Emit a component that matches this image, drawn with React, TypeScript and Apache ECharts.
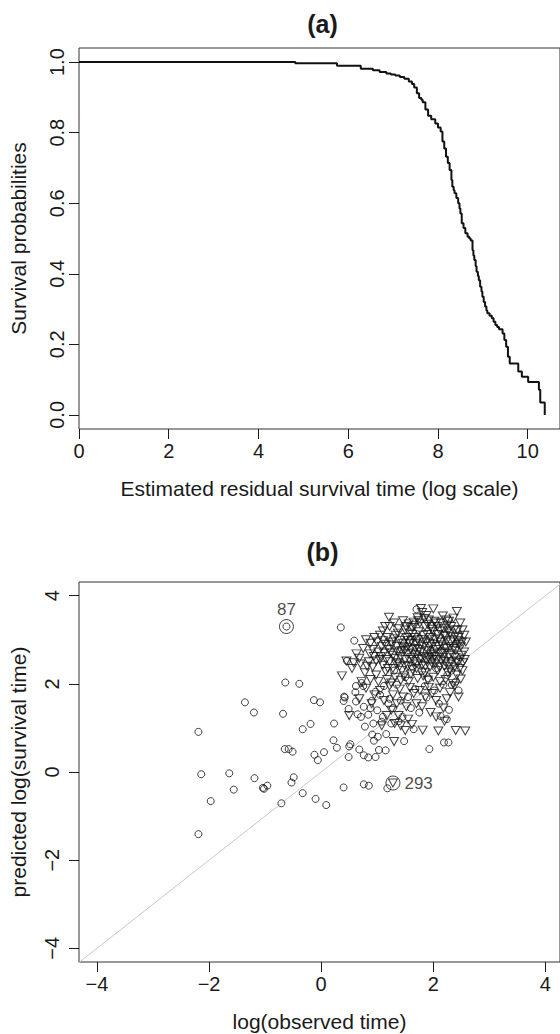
import React, { useEffect, useRef } from "react";
import * as echarts from "echarts";

// ---------- Panel (a): Kaplan–Meier style survival curve ----------
const survTime = [
  0, 4.82, 5.75, 6.28, 6.55, 6.7, 6.85, 6.95, 7.05, 7.15, 7.25, 7.35, 7.42, 7.47, 7.53, 7.58, 7.63, 7.66,
  7.72, 7.78, 7.85, 7.94, 8.0, 8.06, 8.1, 8.14, 8.18, 8.22, 8.26, 8.3, 8.32, 8.35, 8.37, 8.41, 8.45, 8.48,
  8.5, 8.53, 8.57, 8.61, 8.66, 8.7, 8.73, 8.77, 8.79, 8.81, 8.84, 8.86, 8.89, 8.91, 8.94, 8.97, 8.99, 9.02,
  9.05, 9.08, 9.1, 9.15, 9.2, 9.24, 9.28, 9.32, 9.36, 9.44, 9.48, 9.52, 9.56, 9.6, 9.79, 9.87, 10.01, 10.25,
  10.28, 10.38,
];
const survProb = [
  1.0, 0.997, 0.99, 0.981, 0.977, 0.972, 0.968, 0.965, 0.962, 0.958, 0.953, 0.945, 0.938, 0.928, 0.912,
  0.898, 0.893, 0.886, 0.866, 0.848, 0.838, 0.826, 0.815, 0.803, 0.775, 0.755, 0.732, 0.714, 0.694, 0.666,
  0.647, 0.637, 0.628, 0.615, 0.6, 0.585, 0.571, 0.543, 0.53, 0.515, 0.505, 0.5, 0.494, 0.467, 0.452, 0.439,
  0.421, 0.406, 0.394, 0.382, 0.363, 0.35, 0.335, 0.32, 0.307, 0.296, 0.288, 0.281, 0.274, 0.264, 0.255,
  0.249, 0.243, 0.231, 0.212, 0.193, 0.165, 0.146, 0.123, 0.108, 0.093, 0.071, 0.035, 0.0,
];
const aXTicks = [0, 2, 4, 6, 8, 10];
const aYTicks = [0, 0.2, 0.4, 0.6, 0.8, 1.0];

// ---------- Panel (b): predicted vs observed ----------
const circleObs: number[][] = [
  [-2.19, 0.91], [-2.14, -0.05], [-2.19, -1.41], [-1.97, -0.66], [-1.64, -0.03], [-1.56, -0.4], [-1.36, 1.58],
  [-1.2, 1.35], [-1.19, -0.14], [-1.04, -0.36], [-1.02, -0.38], [-0.96, -0.31], [-0.71, -0.71], [-0.68, 1.32],
  [-0.65, 0.52], [-0.58, 0.52], [-0.51, 0.46], [-0.53, -0.24], [-0.49, -0.12], [-0.64, 2.03], [-0.39, 2.0],
  [-0.33, 0.97], [-0.33, -0.48], [-0.19, 1.09], [-0.13, 1.63], [-0.02, 1.58], [-0.12, 0.39], [-0.06, 0.27],
  [-0.1, -0.61], [0.09, -0.75], [0.05, 0.45], [0.23, 1.1], [0.22, 0.72], [0.28, 0.55], [0.4, -0.35],
  [0.41, 1.71], [0.4, 1.61], [0.49, 1.43], [0.49, 0.34], [0.52, 0.63], [0.5, 0.58], [0.61, 1.81], [0.62, 1.6],
  [0.68, 0.51], [0.65, 1.31], [0.71, 1.25], [0.76, 1.48], [0.76, 0.38], [0.78, 1.03], [0.84, 0.33],
  [0.84, 1.3], [0.76, -0.28], [0.85, -0.31], [0.9, 1.61], [0.93, 1.1], [0.91, 0.85], [0.94, 0.71],
  [0.97, 1.82], [0.97, 0.34], [1.01, 0.8], [1.03, 0.5], [1.15, 0.49], [1.18, -0.37], [1.16, 0.86],
  [1.08, 1.14], [1.22, 1.66], [1.45, 1.25], [1.48, 0.7], [1.65, 0.97], [1.93, 0.52], [2.19, 0.67],
  [2.27, 0.67], [2.13, 1.27], [2.24, 1.2], [2.28, 1.41], [2.33, 1.98], [1.88, 1.69], [0.35, 3.28],
  [0.59, 2.98], [1.7, 3.69], [0.42, 1.69], [0.46, 2.52], [0.72, 2.02], [0.75, 1.95], [1.05, 1.75],
  [1.12, 1.95], [1.2, 1.55], [1.28, 1.45], [1.35, 1.98], [1.42, 1.62], [1.55, 1.7], [1.6, 1.45],
  [1.68, 1.88], [1.75, 1.35], [1.85, 1.95], [1.92, 2.12], [2.02, 1.85], [2.1, 1.55], [2.18, 1.98],
  [2.25, 2.2], [2.32, 2.3], [2.4, 2.05], [2.48, 2.6], [2.45, 1.85], [1.0, 1.4], [1.1, 1.25], [1.25, 1.1],
  [1.38, 1.15], [0.88, 1.45], [1.62, 2.4], [1.8, 2.3], [1.95, 2.75], [2.05, 2.35], [1.5, 2.15], [1.3, 2.3],
  [2.2, 2.85], [2.4, 2.9], [1.48, 3.05], [0.62, 1.95], [-0.62, 3.3],
];
const triangleObs: number[][] = [
  [1.21, 3.51], [1.14, 3.3], [1.22, 3.3], [1.46, 3.43], [1.73, 3.43], [1.78, 3.71], [2.0, 3.7], [2.17, 3.54],
  [2.42, 3.64], [2.36, 3.49], [1.8, 3.62], [1.65, 3.4], [1.56, 3.36], [1.92, 3.45], [2.05, 3.38], [2.25, 3.33],
  [2.43, 3.22], [2.52, 3.22], [1.3, 3.38], [1.38, 3.25], [1.5, 3.22], [1.62, 3.28], [1.85, 3.3], [1.98, 3.24],
  [2.12, 3.2], [2.3, 3.15], [2.55, 3.1], [1.05, 3.1], [1.1, 3.2], [0.95, 3.05], [1.72, 3.5], [1.88, 3.55],
  [2.28, 3.42], [0.8, 3.0], [0.88, 2.92], [1.0, 2.95], [1.08, 2.85], [1.18, 3.05], [1.25, 2.95], [1.33, 3.1],
  [1.4, 2.98], [1.45, 2.85], [1.52, 3.05], [1.58, 2.92], [1.63, 3.12], [1.68, 2.8], [1.72, 3.0], [1.77, 2.88],
  [1.82, 3.1], [1.87, 2.95], [1.9, 2.75], [1.95, 3.05], [2.0, 2.9], [2.05, 2.78], [2.1, 3.02], [2.15, 2.88],
  [2.2, 2.7], [2.24, 2.98], [2.3, 2.84], [2.35, 3.0], [2.4, 2.76], [2.45, 2.9], [2.5, 2.65], [2.49, 2.84],
  [2.55, 2.72], [2.58, 2.95], [1.12, 2.7], [1.2, 2.78], [1.28, 2.65], [1.36, 2.72], [1.42, 2.62], [1.48, 2.75],
  [1.55, 2.68], [1.62, 2.6], [1.7, 2.66], [1.78, 2.72], [1.84, 2.62], [1.96, 2.66], [2.02, 2.62], [2.12, 2.68],
  [2.18, 2.6], [2.28, 2.64], [2.38, 2.6], [0.63, 2.68], [0.87, 2.68], [0.92, 2.78], [0.75, 2.8], [1.02, 2.72],
  [1.15, 2.9], [1.58, 3.15], [1.74, 3.18], [2.08, 3.12], [2.22, 3.08], [1.35, 2.85], [1.93, 2.85], [2.45, 3.05],
  [0.37, 2.18], [0.55, 2.35], [0.7, 2.45], [0.78, 2.25], [0.85, 2.5], [0.92, 2.38], [0.98, 2.2], [1.05, 2.55],
  [1.1, 2.42], [1.15, 2.28], [1.22, 2.5], [1.28, 2.35], [1.32, 2.15], [1.38, 2.48], [1.44, 2.3], [1.5, 2.55],
  [1.55, 2.4], [1.6, 2.22], [1.66, 2.5], [1.7, 2.35], [1.75, 2.55], [1.8, 2.42], [1.85, 2.25], [1.88, 2.52],
  [1.94, 2.38], [1.98, 2.55], [2.04, 2.45], [2.08, 2.3], [2.14, 2.52], [2.2, 2.4], [2.26, 2.25], [2.32, 2.5],
  [2.38, 2.38], [2.44, 2.48], [2.49, 2.11], [2.35, 2.01], [2.52, 2.3], [2.56, 2.55], [2.42, 2.2], [1.02, 2.05],
  [1.18, 2.1], [1.25, 2.02], [1.42, 2.08], [1.56, 2.05], [1.72, 2.12], [1.9, 2.08], [2.0, 2.15], [2.12, 2.05],
  [2.22, 2.1], [0.88, 2.1], [0.72, 2.05], [1.48, 2.18], [1.63, 2.32], [1.82, 2.18], [2.3, 2.32], [0.68, 1.66],
  [0.5, 1.28], [1.17, 1.28], [1.3, 0.69], [1.31, 1.1], [1.5, 0.94], [1.81, 0.95], [2.09, 0.93], [2.4, 0.94],
  [2.57, 0.93], [2.24, 1.66], [1.8, 1.48], [0.8, 1.9], [0.95, 1.75], [1.05, 1.85], [1.12, 1.62], [1.22, 1.95],
  [1.28, 1.75], [1.35, 1.55], [1.4, 1.88], [1.46, 1.7], [1.52, 1.48], [1.58, 1.92], [1.65, 1.78], [1.7, 1.55],
  [1.76, 1.85], [1.86, 1.7], [1.92, 1.92], [1.98, 1.78], [2.05, 1.62], [2.12, 1.9], [2.18, 1.45], [2.3, 1.8],
  [2.38, 1.95], [2.45, 1.7], [1.38, 1.28], [1.55, 1.2], [1.62, 1.08], [1.25, 1.4], [1.95, 1.35], [2.2, 1.15],
  [1.08, 1.05], [1.42, 1.05], [0.9, 1.55], [2.05, 1.25], [1.32, 2.58], [1.4, 2.4], [1.46, 2.92], [1.53, 2.82],
  [1.57, 2.55], [1.61, 2.98], [1.64, 2.7], [1.67, 3.05], [1.71, 2.45], [1.74, 2.78], [1.79, 2.58], [1.81, 3.0],
  [1.83, 2.85], [1.86, 2.4], [1.89, 3.12], [1.91, 2.6], [1.94, 2.92], [1.97, 2.48], [1.99, 3.18], [2.01, 2.7],
  [2.03, 3.0], [2.06, 2.55], [2.09, 2.85], [2.11, 2.38], [2.13, 2.95], [2.16, 2.72], [2.19, 3.1], [2.21, 2.5],
  [2.23, 2.8], [2.26, 3.2], [2.27, 2.45], [2.31, 2.95], [2.33, 2.68], [2.36, 2.8], [2.39, 3.08], [2.41, 2.52],
  [2.44, 2.98], [2.47, 2.35], [2.51, 2.95], [2.53, 2.48], [1.26, 2.88], [1.3, 3.02], [1.34, 2.45], [1.37, 3.15],
  [1.43, 2.75], [1.49, 2.42], [1.51, 3.3], [1.55, 2.98], [1.59, 2.78], [1.66, 3.32], [1.69, 2.92], [1.76, 3.38],
  [1.84, 3.48], [1.9, 3.35], [1.96, 3.3], [2.02, 3.42], [2.07, 3.3], [2.14, 3.38], [2.18, 3.25], [2.23, 3.45],
  [2.32, 3.3], [2.37, 3.22], [2.48, 3.38], [1.06, 2.62], [1.1, 2.98], [1.16, 2.55], [1.19, 2.35], [1.24, 2.7],
  [0.98, 2.52], [0.94, 2.62], [0.82, 2.4], [0.68, 2.58], [0.58, 2.48], [0.45, 2.52], [1.28, -0.25],
];
const flaggedIds = ["87", "293"];
const flaggedX = [-0.62, 1.28];
const flaggedY = [3.3, -0.25];
const diagLine = [
  [-5, -5],
  [5, 5],
];
const bTicks = [-4, -2, 0, 2, 4];

const FONT = "'Liberation Sans', Arial, Helvetica, sans-serif";
const INK = "#1a1a1a";

export default function App() {
  const ref = useRef<HTMLDivElement>(null);

  useEffect(() => {
    if (!ref.current) return;
    const chart = echarts.init(ref.current, undefined, { renderer: "svg" });

    const minus = (v: number) => (v < 0 ? "\u2212" + Math.abs(v) : String(v));
    const triPath = "path://M0,0L10,0L5,8.66Z";

    const tickStyle = { show: true, inside: false, length: 10, lineStyle: { color: INK, width: 1 } };
    const axisBase = {
      axisLine: { show: false, onZero: false },
      splitLine: { show: false },
    };

    const option: any = {
      animation: false,
      backgroundColor: "#ffffff",
      textStyle: { fontFamily: FONT, color: INK },
      graphic: [
        {
          type: "text",
          x: 322.5,
          y: 24,
          style: { text: "(a)", fontFamily: FONT, fontSize: 25, fontWeight: "bold", fill: INK, align: "center", verticalAlign: "middle" },
        },
        {
          type: "text",
          x: 322.5,
          y: 552,
          style: { text: "(b)", fontFamily: FONT, fontSize: 25, fontWeight: "bold", fill: INK, align: "center", verticalAlign: "middle" },
        },
      ],
      grid: [
        { left: 78, top: 48, width: 485, height: 381, show: true, borderColor: "#333", borderWidth: 1, backgroundColor: "transparent", containLabel: false },
        { left: 78, top: 582, width: 485, height: 380, show: true, borderColor: "#333", borderWidth: 1, backgroundColor: "transparent", containLabel: false },
      ],
      xAxis: [
        {
          ...axisBase,
          type: "value",
          gridIndex: 0,
          position: "bottom",
          min: 0,
          max: 10.72,
          axisTick: { ...tickStyle, customValues: aXTicks },
          axisLabel: { customValues: aXTicks, fontSize: 20, color: INK, margin: 12, fontFamily: FONT },
          name: "Estimated residual survival time (log scale)",
          nameLocation: "middle",
          nameGap: 49,
          nameTextStyle: { fontSize: 21, color: INK, fontFamily: FONT },
        },
        {
          ...axisBase,
          type: "value",
          gridIndex: 1,
          position: "bottom",
          min: -4.32,
          max: 4.26,
          axisTick: { ...tickStyle, customValues: bTicks },
          axisLabel: { customValues: bTicks, fontSize: 20, color: INK, margin: 12, fontFamily: FONT, formatter: minus },
          name: "log(observed time)",
          nameLocation: "middle",
          nameGap: 49,
          nameTextStyle: { fontSize: 21, color: INK, fontFamily: FONT },
        },
      ],
      yAxis: [
        {
          ...axisBase,
          type: "value",
          gridIndex: 0,
          position: "left",
          min: -0.04,
          max: 1.04,
          axisTick: { ...tickStyle, customValues: aYTicks },
          axisLabel: {
            customValues: aYTicks,
            fontSize: 20,
            color: INK,
            margin: 12,
            rotate: 90,
            fontFamily: FONT,
            formatter: (v: number) => v.toFixed(1),
          },
          name: "Survival probabilities",
          nameLocation: "middle",
          nameGap: 50,
          nameRotate: 90,
          nameTextStyle: { fontSize: 21, color: INK, fontFamily: FONT },
        },
        {
          ...axisBase,
          type: "value",
          gridIndex: 1,
          position: "left",
          min: -4.31,
          max: 4.31,
          axisTick: { ...tickStyle, customValues: bTicks },
          axisLabel: { customValues: bTicks, fontSize: 20, color: INK, margin: 17, rotate: 90, fontFamily: FONT, formatter: minus },
          name: "predicted log(survival time)",
          nameLocation: "middle",
          nameGap: 50,
          nameRotate: 90,
          nameTextStyle: { fontSize: 21, color: INK, fontFamily: FONT },
        },
      ],
      series: [
        {
          type: "line",
          xAxisIndex: 0,
          yAxisIndex: 0,
          step: "end",
          symbol: "none",
          data: survTime.map((t, i) => [t, survProb[i]]),
          lineStyle: { color: "#111", width: 2 },
          silent: true,
        },
        {
          type: "line",
          xAxisIndex: 1,
          yAxisIndex: 1,
          symbol: "none",
          data: diagLine,
          lineStyle: { color: "#c8c8c8", width: 1 },
          clip: true,
          silent: true,
          z: 1,
        },
        {
          type: "scatter",
          xAxisIndex: 1,
          yAxisIndex: 1,
          symbol: "circle",
          symbolSize: 7,
          data: circleObs,
          itemStyle: { color: "transparent", borderColor: "#111", borderWidth: 1 },
          silent: true,
          z: 3,
        },
        {
          type: "scatter",
          xAxisIndex: 1,
          yAxisIndex: 1,
          symbol: triPath,
          symbolSize: [9, 8],
          data: triangleObs,
          itemStyle: { color: "transparent", borderColor: "#111", borderWidth: 1 },
          silent: true,
          z: 3,
        },
        {
          type: "scatter",
          xAxisIndex: 1,
          yAxisIndex: 1,
          symbol: "circle",
          symbolSize: 14,
          data: flaggedIds.map((id, i) => ({
            name: id,
            value: [flaggedX[i], flaggedY[i]],
            label: {
              show: true,
              position: i === 0 ? "top" : "right",
              distance: i === 0 ? 1 : 4,
              formatter: "{b}",
              fontSize: 17,
              color: INK,
              fontFamily: FONT,
            },
          })),
          itemStyle: { color: "transparent", borderColor: "#111", borderWidth: 1 },
          silent: true,
          z: 4,
        },
      ],
    };

    chart.setOption(option);
    return () => chart.dispose();
  }, []);

  return (
    <div
      ref={ref}
      style={{ position: "absolute", left: 0, top: 0, width: 560, height: 1034, background: "#fff" }}
    />
  );
}
